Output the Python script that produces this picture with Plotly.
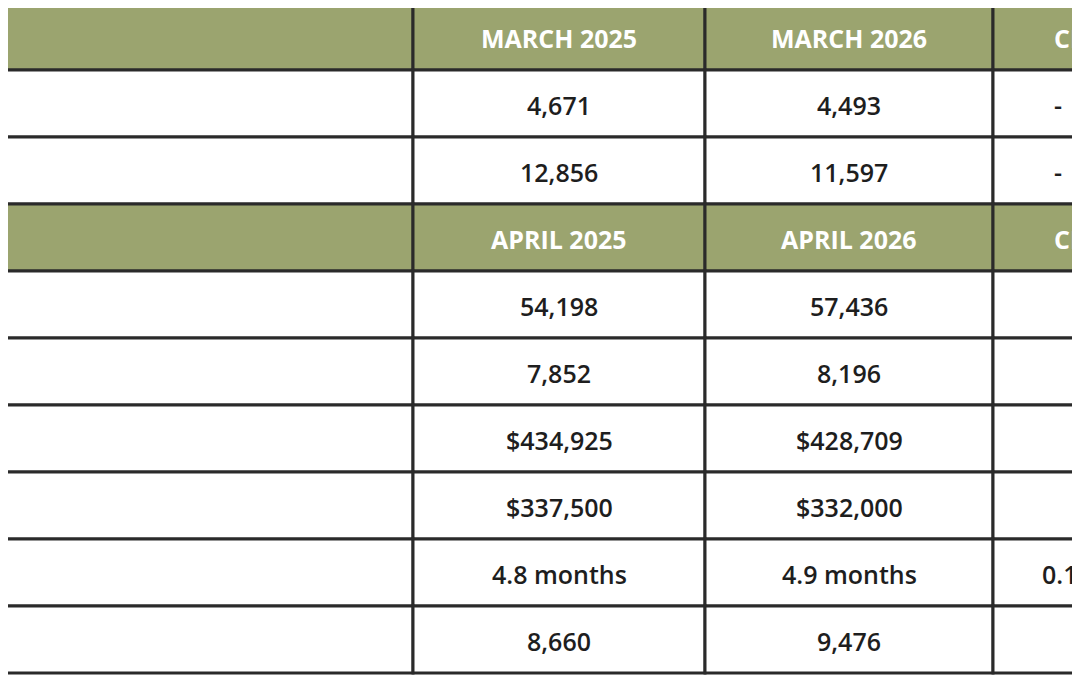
import plotly.graph_objects as go

headers = [["USING MARKET", "MARCH 2025", "MARCH 2026", "CH"],
           [" HOUSING MARKET", "APRIL 2025", "APRIL 2026", "CH"]]
labels1 = ["LY HOME BUILDING PERMITS*", "LY HOME BUILDING PERMITS (YTD)*"]
col1a = ["4,671", "12,856"]
col2a = ["4,493", "11,597"]
col3a = ["-", "-"]
labels2 = ["E LISTINGS", "LY HOME SALES", "LY AVG. SALES PRICE", "LY MEDIAN SALES PRICE",
           "Y MONTHS INVENTORY**", "LY PENDING SALES"]
col1b = ["54,198", "7,852", "$434,925", "$337,500", "4.8 months", "8,660"]
col2b = ["57,436", "8,196", "$428,709", "$332,000", "4.9 months", "9,476"]
col3b = ["", "", "", "", "0.1", ""]

GREEN = "#9ba46f"
LINE = "#2a2a2a"
FONT = "Open Sans"
cols = [-10, 413, 705, 993, 1100]
rowh = 67
top = 3
OFF = 8  # page body margin compensation

rows = []
rows.append(("h", headers[0]))
for i in range(len(labels1)):
    rows.append(("d", [labels1[i], col1a[i], col2a[i], col3a[i]]))
rows.append(("h", headers[1]))
for i in range(len(labels2)):
    rows.append(("d", [labels2[i], col1b[i], col2b[i], col3b[i]]))

shapes, ann = [], []
for r, (kind, vals) in enumerate(rows):
    y0 = top + r * rowh
    y1 = y0 + rowh
    for c in range(4):
        shapes.append(dict(type="rect", xref="x", yref="y", x0=cols[c], x1=cols[c + 1], y0=y0, y1=y1,
                           fillcolor=GREEN if kind == "h" else "white",
                           line=dict(color=LINE, width=3), layer="below"))
        if not vals[c]:
            continue
        if c == 0:
            x, xa = 0, "left"
        elif c == 3:
            x, xa = (1040 if vals[c] == "0.1" else 1052), "left"
        else:
            x, xa = (cols[c] + cols[c + 1]) / 2, "center"
        if kind == "h":
            f = dict(family=FONT, size=25, color="white", weight=700)
        elif c == 0:
            f = dict(family=FONT, size=17, color="#1e1e1e", weight=700)
        else:
            f = dict(family=FONT, size=25, color="#1e1e1e", weight=600)
        yc = (y0 + y1) / 2 - (6 if (c == 0 and kind == "d") else 0) + 1
        ann.append(dict(x=x, y=yc, xref="x", yref="y", text=vals[c], showarrow=False,
                        xanchor=xa, yanchor="middle", font=f))

fig = go.Figure()
fig.update_layout(width=1080, height=675, margin=dict(l=0, r=0, t=0, b=0),
                  paper_bgcolor="white", plot_bgcolor="white",
                  xaxis=dict(range=[OFF, 1080 + OFF], visible=False, fixedrange=True),
                  yaxis=dict(range=[675 + OFF, OFF], visible=False, fixedrange=True),
                  shapes=shapes, annotations=ann, showlegend=False)
fig.write_html("out.html")
